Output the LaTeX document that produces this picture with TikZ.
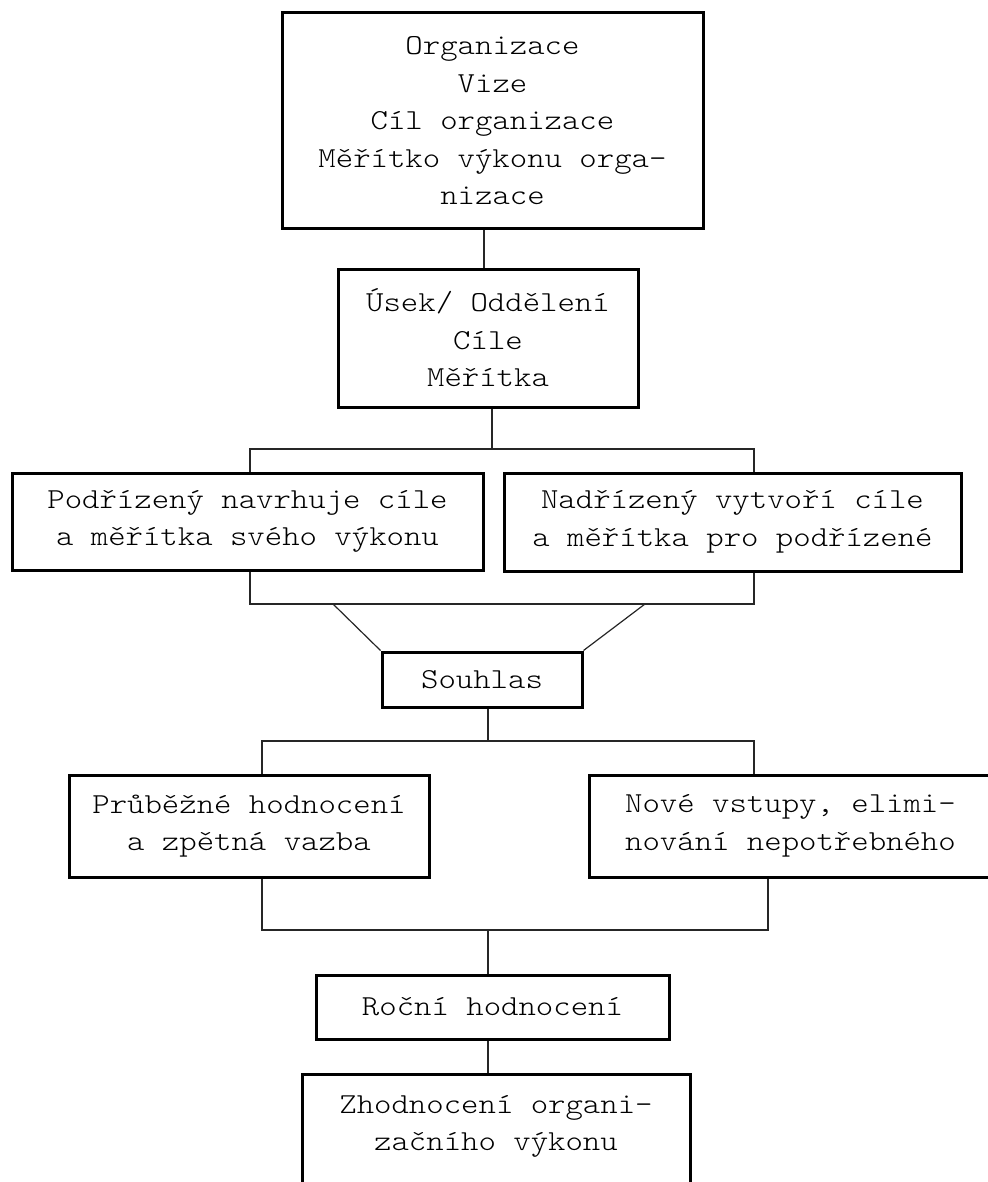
\documentclass[tikz,border=0pt]{standalone}
\usepackage{fontspec}
\newfontfamily\mono{lmmonolt10-regular}[Extension=.otf, FakeStretch=1.143]
\begin{document}
\begin{tikzpicture}[x=0.5pt,y=-0.5pt,
  box/.style={draw=black, line width=1.5pt, rectangle, align=center, inner sep=0pt,
    font=\mono\fontsize{14.5}{18.75}\selectfont, text=black},
  link/.style={draw=black!85, line width=0.6pt}]
\clip (0,0) rectangle (988,1182);
\useasboundingbox (0,0) rectangle (988,1182);

\node[box, minimum width=210.5pt, minimum height=108pt] (org) at (492.5,121)
  {Organizace\\Vize\\Cíl organizace\\Měřítko výkonu orga-\\nizace};
\node[box, minimum width=150pt, minimum height=69pt] (usek) at (488,338)
  {Úsek/ Oddělení\\Cíle\\Měřítka};
\node[box, minimum width=235.5pt, minimum height=48.5pt] (pod) at (247.5,521.5)
  {Podřízený navrhuje cíle\\a měřítka svého výkonu};
\node[box, minimum width=228.5pt, minimum height=49pt] (nad) at (732.5,522)
  {Nadřízený vytvoří cíle\\a měřítka pro podřízené};
\node[box, minimum width=100pt, minimum height=27.5pt] (souhlas) at (482,679.5)
  {Souhlas};
\node[box, minimum width=180pt, minimum height=51pt] (prub) at (249,826)
  {Průběžné hodnocení\\a zpětná vazba};
\node[box, minimum width=201.5pt, minimum height=51pt] (nove) at (790.5,826)
  {Nové vstupy, elimi-\\nování nepotřebného};
\node[box, minimum width=176.5pt, minimum height=32pt] (rocni) at (492.5,1007)
  {Roční hodnocení};
\node[box, minimum width=194pt, minimum height=67pt, anchor=north] (zhod) at (496,1073)
  {Zhodnocení organi-\\začního výkonu\\~};

\coordinate (j1) at (484,0);
\draw[link] (org.south -| j1) -- (usek.north -| j1);

\coordinate (b1m) at (492,449);
\coordinate (b1l) at (250,449);
\coordinate (b1r) at (754,449);
\draw[link] (usek.south -| b1m) -- (b1m);
\draw[link] (pod.north -| b1l) -- (b1l) -- (b1r) -- (nad.north -| b1r);

\coordinate (b2l) at (250,604);
\coordinate (b2r) at (754,604);
\draw[link] (pod.south -| b2l) -- (b2l) -- (b2r) -- (nad.south -| b2r);
\coordinate (d1) at (333,604);
\coordinate (d2) at (645,604);
\draw[link] (d1) -- (souhlas.north west);
\draw[link] (d2) -- (souhlas.north east);

\coordinate (b3m) at (488,741);
\coordinate (b3l) at (262,741);
\coordinate (b3r) at (754,741);
\draw[link] (souhlas.south -| b3m) -- (b3m);
\draw[link] (prub.north -| b3l) -- (b3l) -- (b3r) -- (nove.north -| b3r);

\coordinate (b4m) at (488,930);
\coordinate (b4l) at (262,930);
\coordinate (b4r) at (768,930);
\draw[link] (prub.south -| b4l) -- (b4l) -- (b4r) -- (nove.south -| b4r);
\draw[link] (b4m) -- (rocni.north -| b4m);
\draw[link] (rocni.south -| b4m) -- (zhod.north -| b4m);
\end{tikzpicture}
\end{document}
